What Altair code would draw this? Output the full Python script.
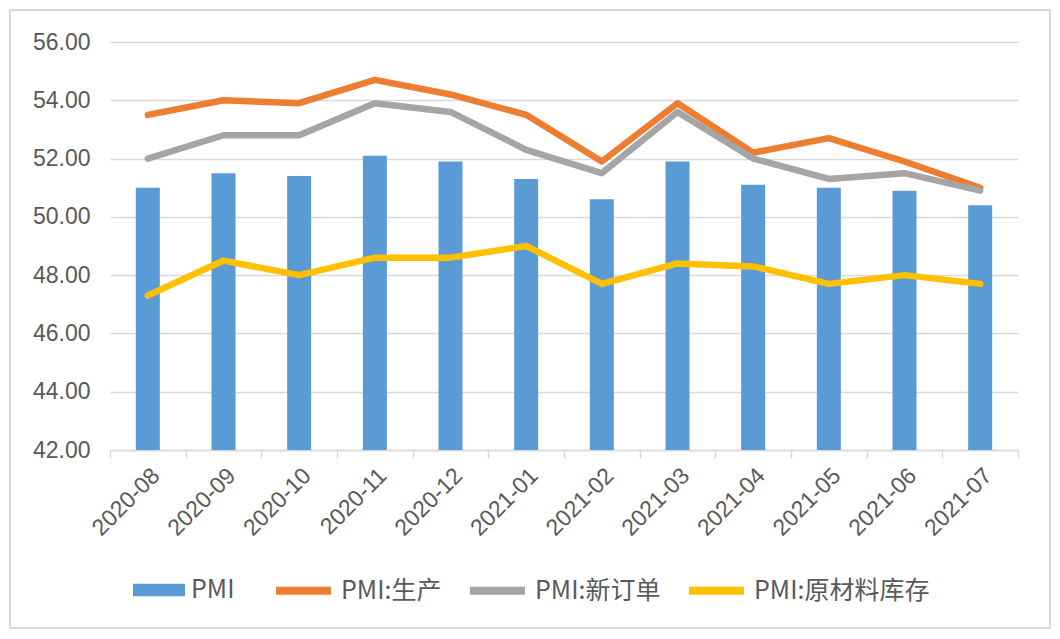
import altair as alt
import pandas as pd

months = ["2020-08", "2020-09", "2020-10", "2020-11", "2020-12", "2021-01",
          "2021-02", "2021-03", "2021-04", "2021-05", "2021-06", "2021-07"]
pmi = [51.0, 51.5, 51.4, 52.1, 51.9, 51.3, 50.6, 51.9, 51.1, 51.0, 50.9, 50.4]
production = [53.5, 54.0, 53.9, 54.7, 54.2, 53.5, 51.9, 53.9, 52.2, 52.7, 51.9, 51.0]
new_orders = [52.0, 52.8, 52.8, 53.9, 53.6, 52.3, 51.5, 53.6, 52.0, 51.3, 51.5, 50.9]
raw_inventory = [47.3, 48.5, 48.0, 48.6, 48.6, 49.0, 47.7, 48.4, 48.3, 47.7, 48.0, 47.7]

line_names = ["PMI:生产", "PMI:新订单", "PMI:原材料库存"]
line_colors = ["#ed7d31", "#a5a5a5", "#ffc000"]
bar_name = "PMI"
bar_color = "#5b9bd5"
y_ticks = [42, 44, 46, 48, 50, 52, 54, 56]

bar_df = pd.DataFrame({"month": months, "value": pmi, "series": bar_name})
line_df = pd.concat([
    pd.DataFrame({"month": months, "value": vals, "series": name, "order": i})
    for i, (name, vals) in enumerate(zip(line_names, [production, new_orders, raw_inventory]))
])

FONT = "Noto Sans CJK SC"
TXT = "#595959"
GRID = "#d9d9d9"

x_enc = alt.X("month:N", sort=months, title=None,
              scale=alt.Scale(paddingInner=0.0, paddingOuter=0.0),
              axis=alt.Axis(labelAngle=-45, labelFontSize=23, labelColor=TXT,
                            labelFont="Liberation Sans", domainColor=GRID, domainWidth=1.5,
                            tickColor=GRID, tickWidth=1.5, tickSize=8, tickBand="extent",
                            labelPadding=6, grid=False, labelLimit=300, labelOverlap=False))
y_enc = alt.Y("value:Q", title=None,
              scale=alt.Scale(domain=[42, 56], nice=False, zero=False),
              axis=alt.Axis(values=y_ticks, format=".2f", labelFontSize=23, labelColor=TXT,
                            labelFont="Liberation Sans", domain=False, ticks=False,
                            gridColor=GRID, gridWidth=1.5, labelPadding=20))

bars = alt.Chart(bar_df).mark_bar(size=24, clip=True).encode(
    x=x_enc, y=y_enc, y2=alt.datum(42),
    fill=alt.Fill("series:N", scale=alt.Scale(domain=[bar_name], range=[bar_color]),
                  legend=alt.Legend(title=None, orient="none", legendX=23, legendY=522,
                                    symbolType="M-1,-0.24H1V0.24H-1Z", symbolSize=2704,
                                    symbolStrokeWidth=0, symbolOpacity=1,
                                    labelFontSize=25, labelColor=TXT, labelFont=FONT,
                                    labelOffset=6, padding=0, labelLimit=300)),
)

lines = alt.Chart(line_df).mark_line(strokeWidth=6.5, strokeCap="round", strokeJoin="round").encode(
    x=x_enc, y=y_enc,
    stroke=alt.Stroke("series:N", sort=line_names,
                      scale=alt.Scale(domain=line_names, range=line_colors),
                      legend=alt.Legend(title=None, orient="none", legendX=162, legendY=517,
                                        direction="horizontal", symbolType="stroke",
                                        symbolSize=3025, symbolStrokeWidth=8,
                                        labelFontSize=25, labelColor=TXT, labelFont=FONT,
                                        labelOffset=6, columnPadding=12, padding=0,
                                        labelLimit=300)),
    order="order:Q",
)

border = alt.Chart(pd.DataFrame({"a": [0]})).mark_rect(
    fill="transparent", stroke=GRID, strokeWidth=2, clip=False
).encode(x=alt.value(-100), x2=alt.value(940), y=alt.value(-32), y2=alt.value(586))

chart = alt.layer(border, bars, lines).resolve_scale(fill="independent", stroke="independent").properties(
    width=908, height=408,
    autosize=alt.AutoSizeParams(type="none"),
    padding={"left": 102, "top": 34, "right": 34, "bottom": 189},
    background="white",
).configure_view(strokeWidth=0)

chart.save("out.html", embed_options={"renderer": "svg", "actions": False})
